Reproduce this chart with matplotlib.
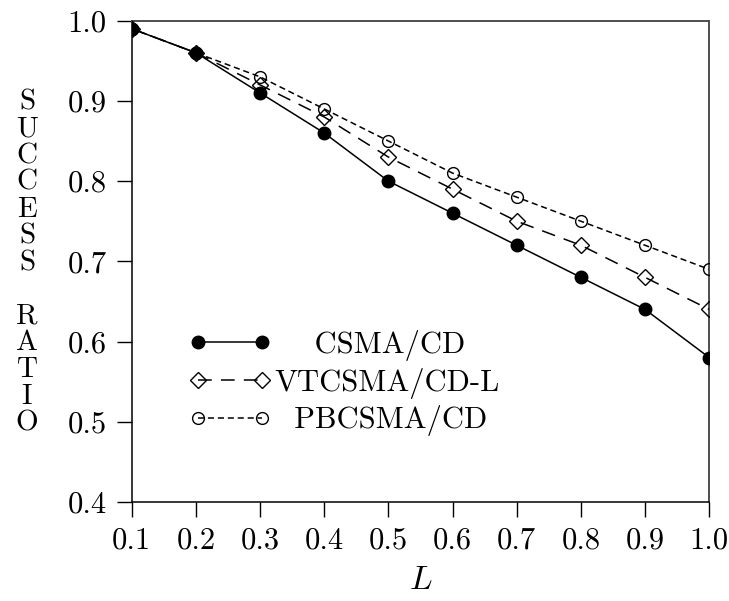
import matplotlib
matplotlib.use("Agg")
import matplotlib.pyplot as plt

plt.rcParams['font.family'] = ['cmr10', 'DejaVu Serif']
plt.rcParams['mathtext.fontset'] = 'cm'
plt.rcParams['axes.formatter.use_mathtext'] = True

L = [0.1, 0.2, 0.3, 0.4, 0.5, 0.6, 0.7, 0.8, 0.9, 1.0]
csma = [0.99, 0.96, 0.91, 0.86, 0.80, 0.76, 0.72, 0.68, 0.64, 0.58]
vtcsma = [0.99, 0.96, 0.92, 0.88, 0.83, 0.79, 0.75, 0.72, 0.68, 0.64]
pbcsma = [0.99, 0.96, 0.93, 0.89, 0.85, 0.81, 0.78, 0.75, 0.72, 0.69]
labels = ["CSMA/CD", "VTCSMA/CD-L", "PBCSMA/CD"]
xticks = [0.1, 0.2, 0.3, 0.4, 0.5, 0.6, 0.7, 0.8, 0.9, 1.0]
yticks = [0.4, 0.5, 0.6, 0.7, 0.8, 0.9, 1.0]

fig = plt.figure(figsize=(7.29, 6.01), dpi=100)
ax = fig.add_axes([131.7 / 729, 1 - 502 / 601, (709.3 - 131.7) / 729, (502 - 20.7) / 601])

ax.plot(L, pbcsma, color='black', lw=1.1, ls=(0, (4, 2.5)), marker='o', ms=8.5,
        mfc='none', mec='black', mew=1.0, label="  " + labels[2], zorder=3)
ax.plot(L, vtcsma, color='black', lw=1.1, ls=(0, (9, 6)), marker='D', ms=8,
        mfc='none', mec='black', mew=1.0, label=labels[1], zorder=3)
ax.plot(L, csma, color='black', lw=1.1, ls='-', marker='o', ms=9,
        mfc='black', mec='black', label="    " + labels[0], zorder=4)

ax.set_xlim(0.1, 1.0)
ax.set_ylim(0.4, 1.0)
ax.set_xticks(xticks)
ax.set_xticklabels([f"{v:.1f}" for v in xticks])
ax.set_yticks(yticks)
ax.set_yticklabels([f"{v:.1f}" for v in yticks])
ax.tick_params(direction='out', length=11, width=1.0, labelsize=22, pad=7,
               top=False, right=False)

for s in ['top', 'right']:
    ax.spines[s].set_linestyle((0, (1, 1)))
    ax.spines[s].set_color('0.25')
    ax.spines[s].set_linewidth(1.3)
for s in ['left', 'bottom']:
    ax.spines[s].set_linewidth(1.1)

ax.set_xlabel(r"$L$", fontsize=24, labelpad=8)

fig.text(27 / 729, 1 - 263 / 601, "S\nU\nC\nC\nE\nS\nS\n\nR\nA\nT\nI\nO",
         ha='center', va='center', fontsize=21, linespacing=1.02)

handles, labs = ax.get_legend_handles_labels()
order = [2, 1, 0]
leg = ax.legend([handles[i] for i in order], [labs[i] for i in order],
                loc='lower left', bbox_to_anchor=(0.051, 0.079), frameon=False,
                numpoints=2, handlelength=2.7, handletextpad=0.1,
                labelspacing=0.22, fontsize=22, borderpad=0.4)

fig.savefig("out.png", dpi=100)
